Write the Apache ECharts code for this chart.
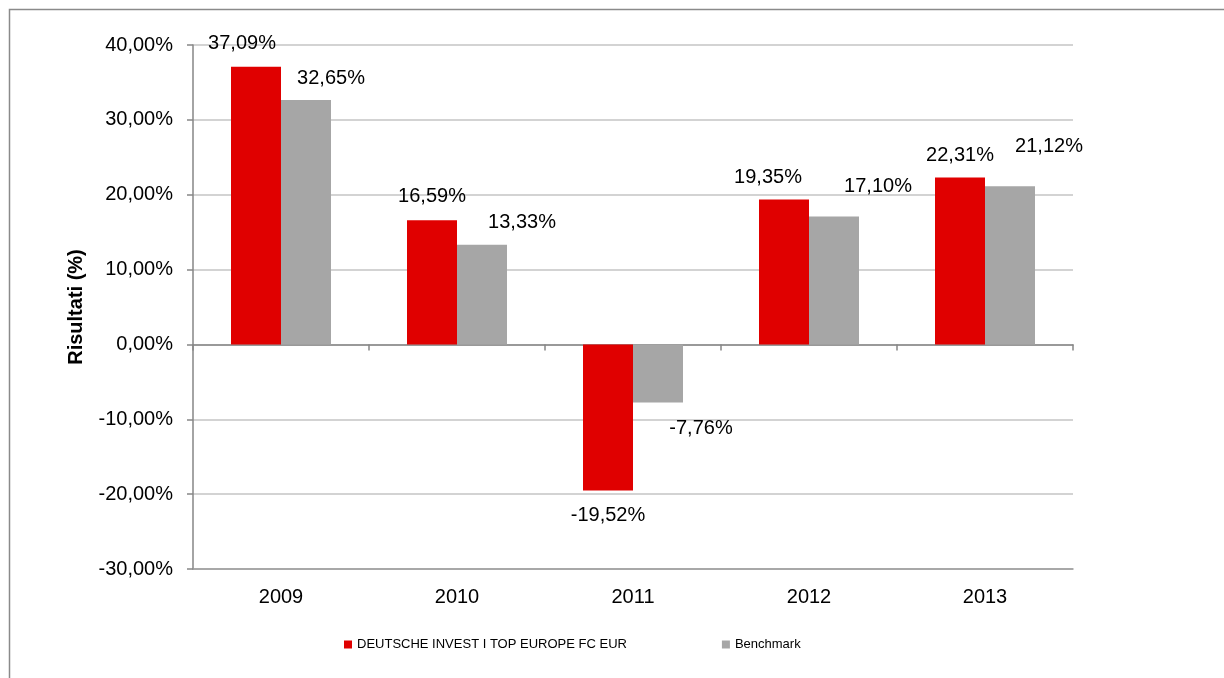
<!DOCTYPE html>
<html>
<head>
<meta charset="utf-8">
<script src="https://cdn.jsdelivr.net/npm/echarts@6/dist/echarts.min.js"></script>
<style>
html,body{margin:0;padding:0;background:#fff;}
#chart{width:1224px;height:678px;}
</style>
</head>
<body>
<div id="chart"></div>
<script>
const years = ['2009', '2010', '2011', '2012', '2013'];
const fundName = 'DEUTSCHE INVEST I TOP EUROPE FC EUR';
const benchName = 'Benchmark';
const fundValues = [37.09, 16.59, -19.52, 19.35, 22.31];
const benchValues = [32.65, 13.33, -7.76, 17.10, 21.12];
const yTicks = [-30, -20, -10, 0, 10, 20, 30, 40];

const FONT = "'Liberation Sans', Arial, sans-serif";
const fmt = v => v.toFixed(2).replace('.', ',') + '%';

// label nudges (as placed in the original chart)
const fundLabelOffsets = [[-14, -8], [0, -9], [0, 10], [-16, -7], [0, -7]];
const benchLabelOffsets = [[25, -7], [40, -7], [43, 11], [44, -15], [39, -25]];

function buildData(values, offsets) {
  return values.map((v, i) => ({
    value: v,
    label: { offset: offsets[i], position: v >= 0 ? 'top' : 'bottom' }
  }));
}

const labelStyle = {
  show: true,
  fontSize: 20,
  fontFamily: FONT,
  color: '#000',
  distance: 5,
  formatter: p => fmt(p.value)
};

const chart = echarts.init(document.getElementById('chart'), null, { renderer: 'canvas' });
chart.setOption({
  animation: false,
  backgroundColor: '#fff',
  textStyle: { fontFamily: FONT },
  graphic: [{
    type: 'rect',
    silent: true,
    z: -10,
    shape: { x: 9.5, y: 9.5, width: 1400, height: 900 },
    style: { fill: null, stroke: '#8a8a8a', lineWidth: 1.5 }
  }],
  grid: { left: 193, right: 151, top: 45, bottom: 109, containLabel: false },
  legend: {
    left: 344,
    top: 638,
    padding: 0,
    itemWidth: 8,
    itemHeight: 8,
    itemGap: 95,
    icon: 'rect',
    textStyle: { fontSize: 13, fontFamily: FONT, color: '#000' },
    data: [fundName, benchName]
  },
  xAxis: [
    {
      type: 'category',
      data: years,
      position: 'bottom',
      axisLine: { onZero: true, lineStyle: { color: '#868686', width: 1.5 } },
      axisTick: { show: true, length: 6, lineStyle: { color: '#868686', width: 1.5 } },
      axisLabel: { show: false },
      splitLine: { show: false }
    },
    {
      type: 'category',
      data: years,
      position: 'bottom',
      axisLine: { onZero: false, show: true, lineStyle: { color: '#9a9a9a', width: 1.5 } },
      axisTick: { show: false },
      axisLabel: { show: true, fontSize: 20, fontFamily: FONT, color: '#000', margin: 18 },
      splitLine: { show: false }
    }
  ],
  yAxis: {
    type: 'value',
    min: yTicks[0],
    max: yTicks[yTicks.length - 1],
    interval: 10,
    name: 'Risultati (%)',
    nameLocation: 'middle',
    nameRotate: 90,
    nameGap: 107,
    nameTextStyle: { fontSize: 20, fontWeight: 'bold', fontFamily: FONT, color: '#000' },
    axisLine: { show: true, lineStyle: { color: '#868686', width: 1.5 } },
    axisTick: { show: true, length: 6, lineStyle: { color: '#868686', width: 1.5 } },
    axisLabel: { fontSize: 20, fontFamily: FONT, color: '#000', margin: 20, formatter: v => fmt(v) },
    splitLine: { show: true, lineStyle: { color: '#c4c4c4', width: 1.5 } }
  },
  series: [
    {
      name: fundName,
      type: 'bar',
      xAxisIndex: 0,
      barWidth: 50,
      barGap: '0%',
      itemStyle: { color: '#e00000' },
      label: labelStyle,
      data: buildData(fundValues, fundLabelOffsets)
    },
    {
      name: benchName,
      type: 'bar',
      xAxisIndex: 0,
      barWidth: 50,
      barGap: '0%',
      itemStyle: { color: '#a6a6a6' },
      label: labelStyle,
      data: buildData(benchValues, benchLabelOffsets)
    }
  ]
});
</script>
</body>
</html>
